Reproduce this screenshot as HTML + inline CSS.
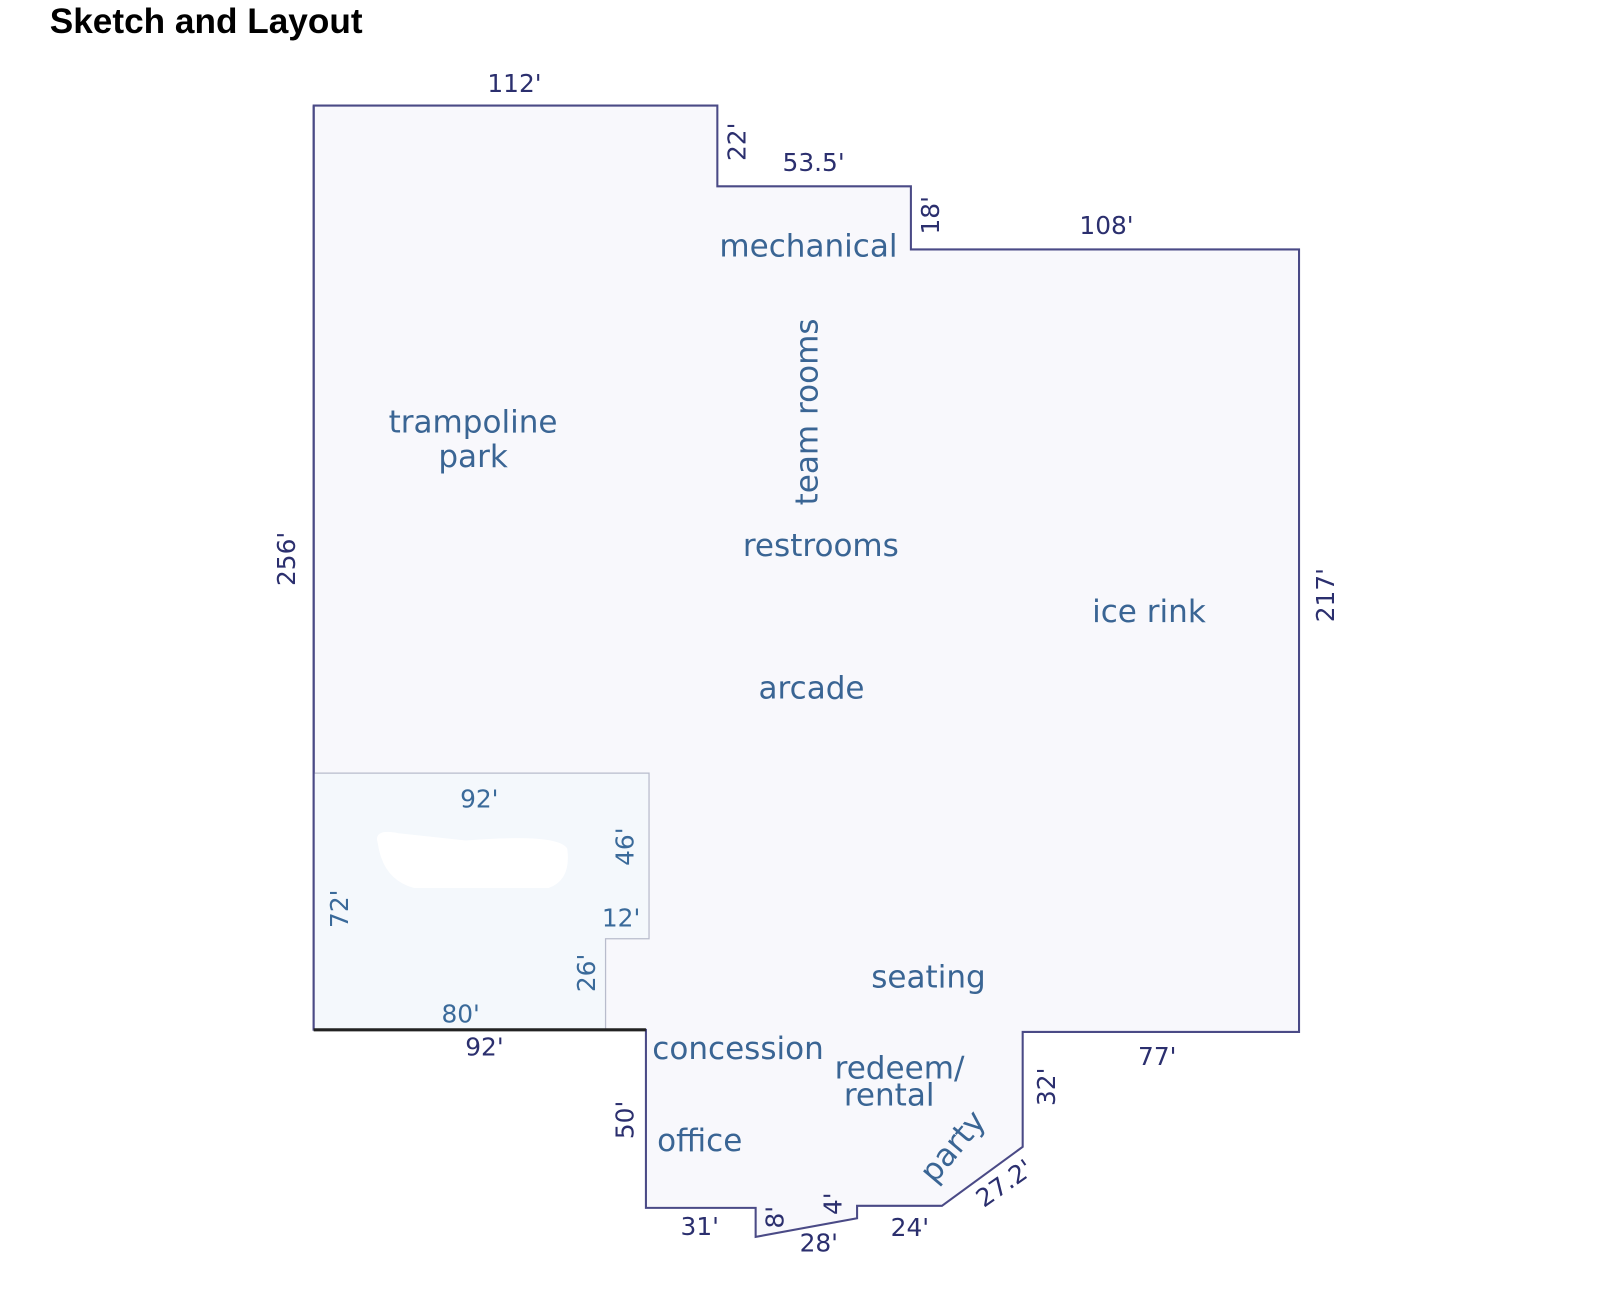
<!DOCTYPE html>
<html><head><meta charset="utf-8"><style>
html,body{margin:0;padding:0;background:#fff;width:1621px;height:1291px;overflow:hidden}
svg{display:block}
.r{font-family:"DejaVu Sans","Liberation Sans",sans-serif;fill:#3a6594;font-size:30px}
.d{font-family:"DejaVu Sans","Liberation Sans",sans-serif;fill:#2b2f6e;font-size:24px}
.b{fill:#3a6a9a}
</style></head><body>
<svg width="1621" height="1291" viewBox="0 0 1566 1247.3" xmlns="http://www.w3.org/2000/svg">
<text x="48" y="32" font-family="Liberation Sans, Arial, sans-serif" font-weight="bold" font-size="34" fill="#000">Sketch and Layout</text>
<polygon points="303,102 693,102 693,180 880,180 880,241 1255,241 1255,997 988,997 988,1108 910,1165 828,1165 828,1177 730,1195 730,1167 624,1167 624,995 303,995" fill="#f8f8fc" stroke="#4a4a86" stroke-width="2"/>
<polygon points="303,747 627,747 627,907 585,907 585,995 303,995" fill="#f4f8fc" stroke="#b8bccc" stroke-width="1.2"/>
<line x1="303" y1="102" x2="303" y2="995" stroke="#4a4a86" stroke-width="2"/>
<line x1="303" y1="995" x2="624" y2="995" stroke="#222" stroke-width="3"/>
<path d="M365,815 Q360,800 385,805 L450,812 Q540,805 548,820 Q552,850 530,858 L400,858 Q370,850 365,815Z" fill="#fff"/>
<text class="d" x="497" y="89" text-anchor="middle">112'</text>
<text class="d" x="786" y="165" text-anchor="middle" font-size="27">53.5'</text>
<text class="d" x="1069" y="226" text-anchor="middle">108'</text>
<text class="d" transform="translate(720,137) rotate(-90)" text-anchor="middle">22'</text>
<text class="d" transform="translate(907,208) rotate(-90)" text-anchor="middle">18'</text>
<text class="d" transform="translate(285,540) rotate(-90)" text-anchor="middle">256'</text>
<text class="d" transform="translate(1289,575) rotate(-90)" text-anchor="middle">217'</text>
<text class="d b" x="463" y="780" text-anchor="middle" font-size="27">92'</text>
<text class="d b" transform="translate(612,818) rotate(-90)" text-anchor="middle" font-size="27">46'</text>
<text class="d b" x="600" y="895" text-anchor="middle" font-size="27">12'</text>
<text class="d b" transform="translate(336,878) rotate(-90)" text-anchor="middle" font-size="27">72'</text>
<text class="d b" transform="translate(575,940) rotate(-90)" text-anchor="middle" font-size="27">26'</text>
<text class="d b" x="445" y="988" text-anchor="middle" font-size="27">80'</text>
<text class="d" x="468" y="1020" text-anchor="middle" font-size="27">92'</text>
<text class="d" transform="translate(612,1082) rotate(-90)" text-anchor="middle" font-size="26">50'</text>
<text class="d" x="676" y="1193" text-anchor="middle" font-size="26">31'</text>
<text class="d" transform="translate(757,1176) rotate(-90)" text-anchor="middle">8'</text>
<text class="d" transform="translate(813,1163) rotate(-90)" text-anchor="middle">4'</text>
<text class="d" x="791" y="1209" text-anchor="middle" font-size="26">28'</text>
<text class="d" x="879" y="1194" text-anchor="middle" font-size="26">24'</text>
<text class="d" transform="translate(975,1150) rotate(-35)" text-anchor="middle" font-size="26">27.2'</text>
<text class="d" transform="translate(1019,1050) rotate(-90)" text-anchor="middle" font-size="26">32'</text>
<text class="d" x="1118" y="1029" text-anchor="middle" font-size="26">77'</text>
<text class="r" x="781" y="248" text-anchor="middle" font-size="28">mechanical</text>
<text class="r" transform="translate(790,398) rotate(-90)" text-anchor="middle" font-size="28">team rooms</text>
<text class="r" x="457" y="418" text-anchor="middle">trampoline</text>
<text class="r" x="457" y="451" text-anchor="middle">park</text>
<text class="r" x="793" y="537" text-anchor="middle">restrooms</text>
<text class="r" x="1110" y="601" text-anchor="middle">ice rink</text>
<text class="r" x="784" y="675" text-anchor="middle">arcade</text>
<text class="r" x="897" y="954" text-anchor="middle" font-size="28">seating</text>
<text class="r" x="713" y="1023" text-anchor="middle">concession</text>
<text class="r" x="869" y="1042" text-anchor="middle">redeem/</text>
<text class="r" x="859" y="1068" text-anchor="middle">rental</text>
<text class="r" x="676" y="1112" text-anchor="middle">office</text>
<text class="r" transform="translate(928,1114) rotate(-50)" text-anchor="middle" font-size="29">party</text>
</svg>
</body></html>
